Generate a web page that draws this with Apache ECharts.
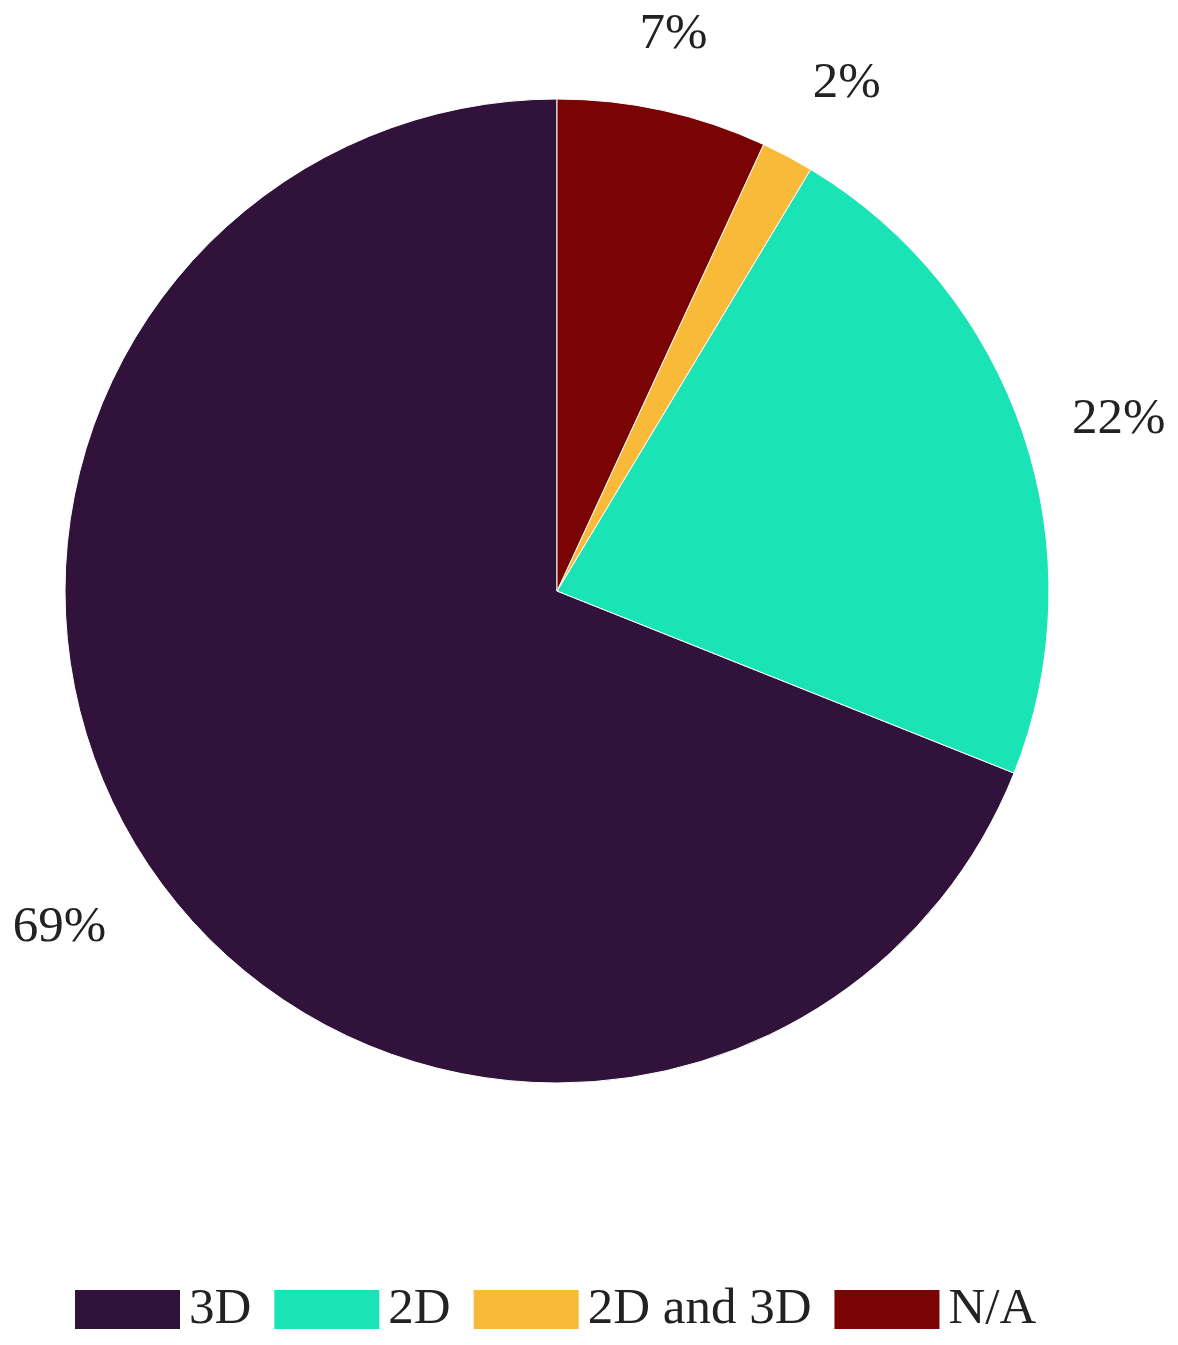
<!DOCTYPE html>
<html>
<head>
<meta charset="utf-8">
<script src="https://cdn.jsdelivr.net/npm/echarts@6/dist/echarts.min.js"></script>
<style>
  html, body { margin: 0; padding: 0; background: #fff; }
  #pie { width: 1178px; height: 1345px; }
</style>
</head>
<body>
<div id="pie"></div>
<script>
// data (counts per dimension type)
var categories = ["3D", "2D", "2D and 3D", "N/A"];
var counts = [40, 13, 1, 4];
var colors = ["#30123b", "#1ae4b6", "#faba39", "#7a0403"];

// label placement tweaks (line lengths used only to position the % text)
var labelLen = [107, 44, 82, 78];
var labelLen2 = [-50, 2, -18, -45];

var chart = echarts.init(document.getElementById("pie"));

var data = [];
for (var i = 0; i < categories.length; i++) {
  data.push({
    name: categories[i],
    value: counts[i],
    itemStyle: { color: colors[i] },
    labelLine: { show: false, length: labelLen[i], length2: labelLen2[i] }
  });
}

var font = "'Liberation Serif', 'Times New Roman', serif";

var option = {
  backgroundColor: "#fff",
  animation: false,
  legend: {
    data: categories,
    left: 73,
    top: 1284,
    padding: 0,
    icon: "rect",
    itemWidth: 107,
    itemHeight: 41,
    itemGap: 21,
    textStyle: {
      fontFamily: font,
      fontSize: 51,
      color: "#222",
      padding: [0, 0, 0, 3]
    }
  },
  series: [
    {
      type: "pie",
      center: [557, 591],
      radius: 492,
      startAngle: 90,
      clockwise: false,
      avoidLabelOverlap: false,
      itemStyle: {
        borderColor: "#fff",
        borderWidth: 1
      },
      label: {
        show: true,
        position: "outside",
        fontFamily: font,
        fontSize: 51,
        color: "#222",
        formatter: function (p) {
          return Math.round(p.percent) + "%";
        }
      },
      emphasis: { disabled: true },
      data: data
    }
  ]
};
chart.setOption(option);
</script>
</body>
</html>
